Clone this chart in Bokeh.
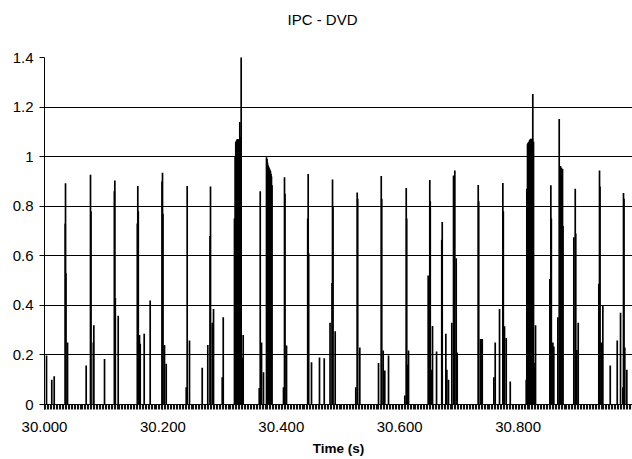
import numpy as np
from bokeh.plotting import figure
from bokeh.models import FixedTicker, Range1d, ColumnDataSource, Title
from bokeh.embed import file_html
from bokeh.resources import INLINE

title_text = "IPC - DVD"
x_label = "Time (s)"
x_ticks = [30.0, 30.2, 30.4, 30.6, 30.8]
x_tick_labels = ["30.000", "30.200", "30.400", "30.600", "30.800"]
y_ticks = [0, 0.2, 0.4, 0.6, 0.8, 1, 1.2, 1.4]
y_tick_labels = ["0", "0.2", "0.4", "0.6", "0.8", "1", "1.2", "1.4"]

spike_time = [
    30.0034, 30.0123, 30.0164, 30.0350, 30.0355, 30.0362, 30.0389, 30.0704,
    30.0777, 30.0785, 30.0825, 30.0833, 30.1014, 30.1180, 30.1188, 30.1196,
    30.1245, 30.1568, 30.1576, 30.1584, 30.1605, 30.1617, 30.1684, 30.1785,
    30.1985, 30.1993, 30.2001, 30.2027, 30.2056, 30.2394, 30.2410, 30.2449,
    30.2664, 30.2758, 30.2796, 30.2804, 30.2833, 30.2855, 30.3002, 30.3019,
    30.3209, 30.3220, 30.3231, 30.3243, 30.3254, 30.3265, 30.3277, 30.3288,
    30.3299, 30.3310, 30.3322, 30.3339, 30.3356,
    30.3627, 30.3644, 30.3666, 30.3699,
    30.3750, 30.3759, 30.3767, 30.3776, 30.3784, 30.3793, 30.3801, 30.3810,
    30.3818, 30.3826, 30.3834, 30.3843,
    30.4037, 30.4054, 30.4062, 30.4088, 30.4446, 30.4454, 30.4462, 30.4510,
    30.4645, 30.4725, 30.4823, 30.4857, 30.4865, 30.4873, 30.4910,
    30.5258, 30.5282, 30.5290, 30.5326, 30.5642, 30.5688, 30.5696, 30.5721,
    30.5748, 30.5811, 30.6086, 30.6110, 30.6118, 30.6132, 30.6149,
    30.6481, 30.6508, 30.6516, 30.6542, 30.6554, 30.6622, 30.6710, 30.6718,
    30.6779, 30.6796, 30.6824, 30.6880, 30.6909, 30.6931, 30.6954, 30.6971,
    30.7326, 30.7334, 30.7365, 30.7380, 30.7394, 30.7590, 30.7613, 30.7686,
    30.7742, 30.7750, 30.7770, 30.7799, 30.7867,
    30.8137, 30.8147, 30.8159, 30.8168, 30.8176, 30.8185, 30.8193, 30.8201,
    30.8209, 30.8218, 30.8226, 30.8235, 30.8243, 30.8248, 30.8260, 30.8277,
    30.8294,
    30.8536, 30.8553, 30.8561, 30.8587, 30.8603, 30.8671, 30.8694, 30.8705,
    30.8716, 30.8733, 30.8750, 30.8758, 30.8941, 30.8965, 30.8973, 30.8992,
    30.9015, 30.9363, 30.9375, 30.9383, 30.9404, 30.9431, 30.9556, 30.9674,
    30.9730, 30.9769, 30.9780, 30.9788, 30.9802, 30.9836,
]
spike_value = [
    0.198, 0.10, 0.114, 0.73, 0.893, 0.53, 0.25, 0.157,
    0.927, 0.78, 0.25, 0.32, 0.184, 0.86, 0.904, 0.43,
    0.358, 0.73, 0.882, 0.78, 0.28, 0.245, 0.285, 0.42,
    0.90, 0.935, 0.77, 0.24, 0.164, 0.07, 0.882, 0.258,
    0.148, 0.24, 0.68, 0.88, 0.33, 0.385, 0.11, 0.352,
    0.75, 1.0, 1.06, 1.065, 1.07, 1.07, 1.07, 1.07,
    1.14, 1.08, 1.404, 0.19, 0.28,
    0.067, 0.86, 0.25, 0.13,
    0.998, 0.99, 0.975, 0.965, 0.96, 0.955, 0.95, 0.945,
    0.94, 0.93, 0.92, 0.885,
    0.07, 0.917, 0.85, 0.238, 0.75, 0.93, 0.61, 0.17,
    0.19, 0.187, 0.33, 0.49, 0.908, 0.8, 0.296,
    0.07, 0.855, 0.83, 0.23, 0.167, 0.922, 0.83, 0.218,
    0.137, 0.198, 0.036, 0.873, 0.75, 0.16, 0.218,
    0.52, 0.906, 0.82, 0.14, 0.317, 0.214, 0.665, 0.736,
    0.285, 0.14, 0.10, 0.33, 0.924, 0.944, 0.59, 0.21,
    0.886, 0.82, 0.264, 0.264, 0.264, 0.11, 0.25, 0.385,
    0.894, 0.78, 0.316, 0.268, 0.093,
    0.10, 0.87, 1.05, 1.055, 1.058, 1.06, 1.065, 1.068,
    1.07, 1.072, 1.072, 1.07, 1.07, 1.253, 1.06, 0.167,
    0.32,
    0.506, 0.885, 0.75, 0.25, 0.234, 0.352, 1.152, 0.96,
    0.962, 0.955, 0.95, 0.72, 0.675, 0.87, 0.69, 0.22,
    0.33, 0.487, 0.944, 0.88, 0.25, 0.40, 0.157, 0.258,
    0.37, 0.07, 0.853, 0.83, 0.23, 0.14,
]

FONT = "Liberation Sans"

p = figure(width=632, height=459, output_backend="svg", toolbar_location=None,
           x_range=Range1d(30.0, 30.9932), y_range=Range1d(0, 1.4),
           min_border_left=44, min_border_right=0, min_border_top=57,
           min_border_bottom=55)
p.background_fill_color = "white"
p.border_fill_color = "white"
p.outline_line_color = None

# spacer between plot area and the title, then the title itself
spacer = Title(text=" ", text_font_size="1px", standoff=25)
p.add_layout(spacer, "above")
main_title = Title(text=title_text, align="left", offset=243, standoff=0,
                   vertical_align="top", text_font=FONT, text_font_size="15px",
                   text_font_style="normal", text_color="black")
p.add_layout(main_title, "above")

src = ColumnDataSource(dict(t=spike_time, v=spike_value))
p.segment(x0="t", y0=0, x1="t", y1="v", source=src,
          line_color="black", line_width=1.7)

# axes
minor = list(np.arange(30.0, 30.9932, 0.0025))
p.xaxis.ticker = FixedTicker(ticks=x_ticks, minor_ticks=minor)
p.xaxis.major_label_overrides = dict(zip(x_ticks, x_tick_labels))
p.xaxis.axis_label = x_label
p.xaxis.axis_label_text_font = FONT
p.xaxis.axis_label_text_font_size = "13.5px"
p.xaxis.axis_label_text_font_style = "bold"
p.xaxis.axis_label_text_color = "black"
p.xaxis.axis_label_standoff = 6
p.xaxis.major_label_text_font = FONT
p.xaxis.major_label_text_font_size = "15px"
p.xaxis.major_label_text_color = "black"
p.xaxis.major_label_standoff = 12
p.xaxis.major_tick_out = 5
p.xaxis.major_tick_in = 0
p.xaxis.minor_tick_out = 5
p.xaxis.minor_tick_in = 0
p.xaxis.minor_tick_line_color = "#111111"
p.xaxis.minor_tick_line_width = 1.1
p.xaxis.major_tick_line_color = "black"
p.xaxis.axis_line_color = "black"

p.yaxis.ticker = FixedTicker(ticks=y_ticks)
p.yaxis.major_label_overrides = dict(zip(y_ticks, y_tick_labels))
p.yaxis.major_label_text_font = FONT
p.yaxis.major_label_text_font_size = "15px"
p.yaxis.major_label_text_color = "black"
p.yaxis.major_label_standoff = 6
p.yaxis.major_tick_out = 5
p.yaxis.major_tick_in = 0
p.yaxis.minor_tick_line_color = None
p.yaxis.major_tick_line_color = "black"
p.yaxis.axis_line_color = "black"

p.xgrid.visible = False
p.ygrid.ticker = FixedTicker(ticks=y_ticks)
p.ygrid.grid_line_color = "black"
p.ygrid.grid_line_width = 1

open("out.html", "w").write(file_html(p, INLINE))
